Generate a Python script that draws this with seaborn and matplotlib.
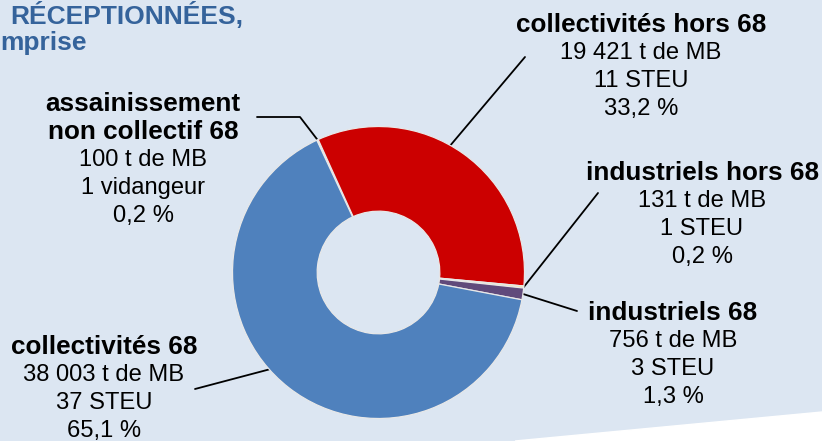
import numpy as np
import matplotlib.pyplot as plt
import seaborn as sns

# données du graphique
categories = ['assainissement\nnon collectif 68', 'collectivités hors 68',
              'industriels hors 68', 'industriels 68', 'collectivités 68']
tonnages = [100, 19421, 131, 756, 38003]
producteurs = ['1 vidangeur', '11 STEU', '1 STEU', '3 STEU', '37 STEU']
couleurs = ['#F2E4E4', '#CC0000', '#F3EDA6', '#604A7B', '#4F81BD']

sns.set_style('white')
plt.rcParams['font.family'] = ['Liberation Sans', 'DejaVu Sans']

W, H = 822, 441
fig = plt.figure(figsize=(W / 100, H / 100), dpi=100)
fig.patch.set_facecolor('#DCE6F2')

# axe de fond en pixels (origine en haut à gauche)
bg = fig.add_axes([0, 0, 1, 1])
bg.set_xlim(0, W)
bg.set_ylim(H, 0)
bg.axis('off')
bg.fill([515, W, W], [H, 412, H], color='white', zorder=0)

# donut
cx, cy, r = 378.5, 272.5, 146
ax = fig.add_axes([(cx - r) / W, (H - cy - r) / H, 2 * r / W, 2 * r / H])
wedges, _ = ax.pie(tonnages, colors=couleurs, startangle=115, counterclock=False,
                   wedgeprops=dict(width=0.58, edgecolor='#E8E8E8', linewidth=0.9))
ax.set_xlim(-1, 1)
ax.set_ylim(-1, 1)
ax.axis('off')


def to_px(x, y):
    pt = ax.transData.transform((x, y))
    return bg.transData.inverted().transform(pt)


# titre (début coupé dans l'original)
titre_col = '#35639B'
bg.text(243, 15, 'RÉCEPTIONNÉES,', ha='right', va='center', fontsize=19,
        fontweight='bold', color=titre_col)
bg.text(0, 43, 'mprise', ha='left', va='center', fontsize=19,
        fontweight='bold', color=titre_col)

total = sum(tonnages)
# position du texte (centre x, première ligne y), départ du trait, fraction d'angle
label_pos = [(143, 104), (641, 25), (702, 173), (673, 313), (104, 347)]
line_start = [[(257, 117), (300, 117)], [(525, 57)], [(598, 193)],
              [(577, 311)], [(195, 389)]]
anchor_frac = [0.5, 0.55, 0.5, 0.5, 0.455]
step = 28

for i, w in enumerate(wedges):
    # texte
    x0, y0 = label_pos[i]
    tonnage = f'{tonnages[i]:,}'.replace(',', ' ') + ' t de MB'
    pct = f'{100 * tonnages[i] / total:.1f}'.replace('.', ',') + ' %'
    head = categories[i].split('\n')
    lines = [(t, 'bold') for t in head] + [(tonnage, 'normal'),
                                           (producteurs[i], 'normal'),
                                           (pct, 'normal')]
    for k, (t, fw) in enumerate(lines):
        bg.text(x0, y0 + k * step, t, ha='center', va='center',
                fontsize=18.8 if fw == 'bold' else 17.1, fontweight=fw,
                color='black')
    # trait de rappel
    ang = np.deg2rad(w.theta1 + anchor_frac[i] * (w.theta2 - w.theta1))
    ex, ey = to_px(np.cos(ang), np.sin(ang))
    pts = line_start[i] + [(ex, ey)]
    bg.plot([p[0] for p in pts], [p[1] for p in pts], color='black', lw=1.3,
            zorder=3)

fig.savefig('out.png', dpi=100, facecolor=fig.get_facecolor())
